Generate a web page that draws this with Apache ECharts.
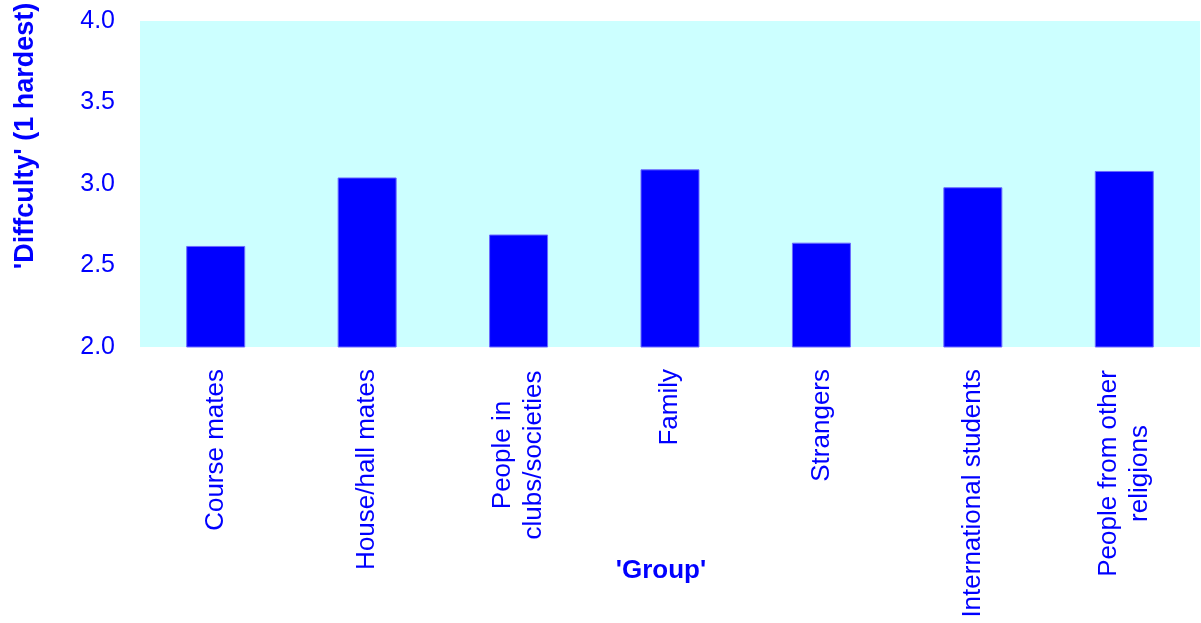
<!DOCTYPE html>
<html>
<head>
<meta charset="utf-8">
<script src="https://cdn.jsdelivr.net/npm/echarts@6/dist/echarts.min.js"></script>
<style>
html,body{margin:0;padding:0;background:#fff;}
#chart{width:1201px;height:623px;}
</style>
</head>
<body>
<div id="chart"></div>
<script>
var categories = ["Course mates", "House/hall mates", "People in\nclubs/societies", "Family", "Strangers", "International students", "People from other\nreligions"];
var difficulty = [2.62, 3.04, 2.69, 3.09, 2.64, 2.98, 3.08];
var yTicks = {min: 2.0, max: 4.0, interval: 0.5};
var xTitle = "'Group'";
var yTitle = "'Diffculty' (1 hardest)";

var BLUE = '#0000ff';
var FONT = '"Liberation Sans", Arial, Helvetica, sans-serif';
var chart = echarts.init(document.getElementById('chart'));
var lblStyle = {fontSize: 26, color: BLUE, fontFamily: FONT, lineHeight: 31};
chart.setOption({
  animation: false,
  backgroundColor: '#ffffff',
  grid: {left: 140, right: 1, top: 21, bottom: 276, show: true, backgroundColor: '#ccffff', borderWidth: 0,
         containLabel: false, outerBoundsMode: 'none'},
  xAxis: {
    type: 'category',
    data: categories,
    axisLine: {show: false},
    axisTick: {show: false},
    axisLabel: {
      rotate: 90, margin: 22, interval: 0,
      color: BLUE, fontSize: 26, fontFamily: FONT, lineHeight: 31,
      formatter: function (v) {
        if (v.indexOf('\n') < 0) return v;
        var key = v.indexOf('religions') >= 0 ? 'w2' : 'w1';
        return v.split('\n').map(function (s) { return '{' + key + '|' + s + '}'; }).join('\n');
      },
      rich: {
        w1: Object.assign({width: 172, align: 'center'}, lblStyle),
        w2: Object.assign({width: 209, align: 'center'}, lblStyle)
      }
    },
    name: xTitle,
    nameLocation: 'middle',
    nameGap: 211,
    nameMoveOverlap: false,
    nameTextStyle: {color: BLUE, fontSize: 26, fontWeight: 'bold', fontFamily: FONT, padding: [0, 18, 0, 0]}
  },
  yAxis: {
    type: 'value',
    min: yTicks.min, max: yTicks.max, interval: yTicks.interval,
    axisLine: {show: false},
    axisTick: {show: false},
    splitLine: {show: false},
    axisLabel: {
      margin: 25, color: BLUE, fontSize: 25, fontFamily: FONT,
      formatter: function (v) { return v.toFixed(1); }
    },
    name: yTitle,
    nameLocation: 'middle',
    nameRotate: 90,
    nameGap: 101,
    nameMoveOverlap: false,
    nameTextStyle: {color: BLUE, fontSize: 27, fontWeight: 'bold', fontFamily: FONT, padding: [0, 0, 0, 96]}
  },
  series: [{
    type: 'bar',
    data: difficulty,
    barWidth: 59,
    itemStyle: {color: BLUE, borderColor: '#6a6aff', borderWidth: 1}
  }]
});
</script>
</body>
</html>
